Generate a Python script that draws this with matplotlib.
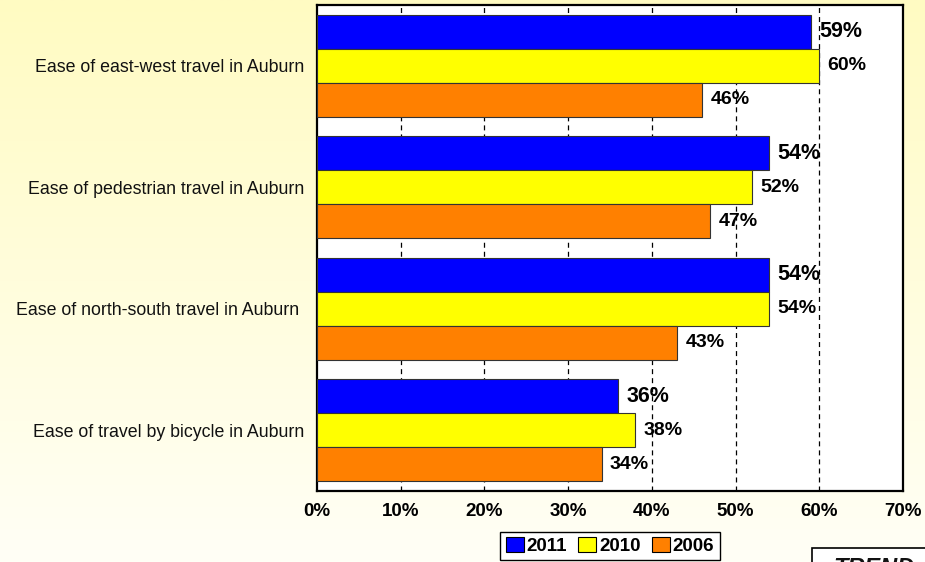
import matplotlib
matplotlib.use("Agg")
import matplotlib.pyplot as plt
import numpy as np
from matplotlib.colors import LinearSegmentedColormap
from matplotlib.patches import Rectangle

plt.rcParams['font.family'] = ['Liberation Sans', 'DejaVu Sans']
plt.rcParams['lines.scale_dashes'] = False

categories = [
    "Ease of east-west travel in Auburn",
    "Ease of pedestrian travel in Auburn",
    "Ease of north-south travel in Auburn ",
    "Ease of travel by bicycle in Auburn",
]
years = ["2011", "2010", "2006"]
v2011 = [59, 54, 54, 36]
v2010 = [60, 52, 54, 38]
v2006 = [46, 47, 43, 34]
xticks = [0, 10, 20, 30, 40, 50, 60, 70]
xtick_labels = ["0%", "10%", "20%", "30%", "40%", "50%", "60%", "70%"]

colors = ["#0000FF", "#FFFF00", "#FF8000"]
series = [v2011, v2010, v2006]

W, H = 925, 562
fig = plt.figure(figsize=(W / 100, H / 100), dpi=100)

# background gradient
bg = fig.add_axes([0, 0, 1, 1], zorder=-10)
cmap = LinearSegmentedColormap.from_list("bg", ["#FFFBC2", "#FFFFF6"])
grad = np.linspace(0, 1, 256).reshape(-1, 1)
bg.imshow(grad, aspect="auto", cmap=cmap, extent=[0, 1, 0, 1], origin="upper")
bg.axis("off")

ax = fig.add_axes([317 / W, 1 - 491 / H, (903 - 317) / W, (491 - 5) / H])
ax.set_facecolor("white")

y = np.arange(len(categories))
bh = 0.28
offsets = [-bh, 0, bh]
for s, vals, col, off in zip(years, series, colors, offsets):
    ax.barh(y + off, vals, height=bh, color=col, edgecolor="#333333",
            linewidth=0.8, label=s, zorder=3)
    fs = 15.5 if s == "2011" else 14
    for yy, v in zip(y + off, vals):
        ax.annotate(f"{v}%", xy=(v, yy), xytext=(6, 0), textcoords="offset points",
                    ha="left", va="center", fontsize=fs, fontweight="bold",
                    color="black", zorder=5)

ax.set_xlim(0, 70)
ax.set_ylim(3.5, -0.5)
ax.set_xticks(xticks)
ax.set_xticklabels(xtick_labels, fontsize=13.5, fontweight="bold")
ax.set_yticks(y)
ax.set_yticklabels(categories, fontsize=12.8, color="#111111")
ax.tick_params(axis="both", length=0)
ax.tick_params(axis="x", pad=9)
ax.tick_params(axis="y", pad=9)
for xv in xticks[1:-1]:
    ax.axvline(xv, color="black", lw=0.9, linestyle=(0, (3.6, 2.9)), zorder=1)
for sp in ax.spines.values():
    sp.set_linewidth(1.6)
    sp.set_color("black")

leg = ax.legend(loc="center", bbox_to_anchor=(610 / W, 1 - 546 / H),
                bbox_transform=fig.transFigure, ncol=3, frameon=True,
                fancybox=False, edgecolor="black", framealpha=1,
                prop={"weight": "bold", "size": 13.5}, handlelength=0.95,
                handleheight=0.8, handletextpad=0.15, columnspacing=0.6,
                borderpad=0.3, borderaxespad=0)
leg.get_frame().set_linewidth(1.0)
for h in leg.legend_handles:
    h.set_edgecolor("black")
    h.set_linewidth(0.8)

# partially visible "TREND" box
fig.patches.append(Rectangle((812 / W, -0.05), 0.2, 1 - 548 / H + 0.05,
                             transform=fig.transFigure, facecolor="white",
                             edgecolor="black", linewidth=1.2))
fig.text(833 / W, 1 - 557 / H, "TREND", fontsize=17, fontweight="bold",
         fontstyle="italic", ha="left", va="top", color="#111111")

fig.savefig("out.png", dpi=100)
